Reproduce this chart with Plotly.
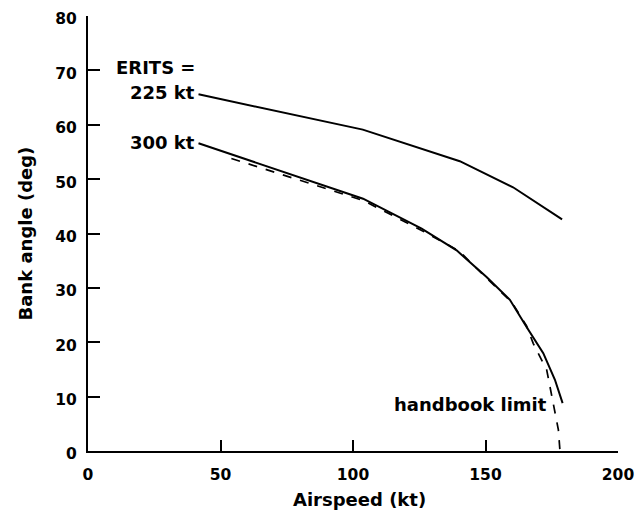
import plotly.graph_objects as go

# ERITS = 225 kt curve
erits225_x = [41.7, 103.7, 140.3, 160.4, 178.9]
erits225_y = [65.6, 59.1, 53.3, 48.5, 42.6]

# ERITS = 300 kt curve
erits300_x = [41.7, 103.8, 125.9, 139.1, 150.4, 159.2, 165.5, 171.8, 176.2, 179.1]
erits300_y = [56.6, 46.4, 40.9, 36.9, 32.0, 27.8, 22.8, 18.0, 13.1, 8.8]

# handbook limit (dashed)
handbook_x = [54.1, 103.7, 125.0, 140.0, 150.0, 160.0, 165.5, 168.0, 173.1, 175.6, 177.5, 178.1]
handbook_y = [53.8, 46.1, 40.8, 36.8, 32.0, 27.3, 23.0, 19.8, 14.9, 8.8, 3.9, 0.0]

x_ticks = [0, 50, 100, 150, 200]
y_ticks = [0, 10, 20, 30, 40, 50, 60, 70, 80]

FONT = "DejaVu Sans"

fig = go.Figure()
fig.add_trace(go.Scatter(x=erits225_x, y=erits225_y, mode="lines",
                         line=dict(color="black", width=2), showlegend=False))
fig.add_trace(go.Scatter(x=erits300_x, y=erits300_y, mode="lines",
                         line=dict(color="black", width=2), showlegend=False))
fig.add_trace(go.Scatter(x=handbook_x, y=handbook_y, mode="lines",
                         line=dict(color="black", width=1.7, dash="9px,9px"),
                         showlegend=False, cliponaxis=False))

lab = dict(family=FONT, size=18, color="black", weight="bold")
fig.add_annotation(x=41.0, y=70.6, text="ERITS =", showarrow=False,
                   xanchor="right", yanchor="middle", font=lab)
fig.add_annotation(x=41.0, y=66.0, text="225 kt", showarrow=False,
                   xanchor="right", yanchor="middle", font=lab)
fig.add_annotation(x=41.0, y=56.8, text="300 kt", showarrow=False,
                   xanchor="right", yanchor="middle", font=lab)
fig.add_annotation(x=174.0, y=8.5, text="handbook limit", showarrow=False,
                   xanchor="right", yanchor="middle", font=lab)

# axis titles
fig.add_annotation(x=0.5, y=0, xref="paper", yref="paper", yshift=-48, xshift=6,
                   text="Airspeed (kt)", showarrow=False,
                   xanchor="center", yanchor="middle", font=lab)
fig.add_annotation(x=0, y=0.5, xref="paper", yref="paper", xshift=-63,
                   text="Bank angle (deg)", showarrow=False, textangle=-90,
                   xanchor="center", yanchor="middle", font=lab)

tickfont = dict(family=FONT, size=15.5, color="black", weight="bold")
fig.update_xaxes(range=[0, 200], tickvals=x_ticks, ticks="inside", ticklen=11,
                 tickwidth=2, tickcolor="black", showline=True, linewidth=2,
                 linecolor="black", showgrid=False, zeroline=False,
                 tickfont=tickfont, ticklabelstandoff=8, automargin=False)
fig.update_yaxes(range=[0, 80], tickvals=y_ticks, ticks="inside", ticklen=12,
                 tickwidth=2, tickcolor="black", showline=True, linewidth=2,
                 linecolor="black", showgrid=False, zeroline=False,
                 tickfont=tickfont, ticklabelstandoff=6, ticklabelshift=3,
                 automargin=False)

fig.update_layout(width=638, height=510,
                  margin=dict(l=88, r=20, t=16, b=59),
                  plot_bgcolor="white", paper_bgcolor="white")

# remove the default page margin so the figure fills the window exactly
fig.write_html("out.html", config={"displayModeBar": False},
               post_script="document.body.style.margin='0px';")
